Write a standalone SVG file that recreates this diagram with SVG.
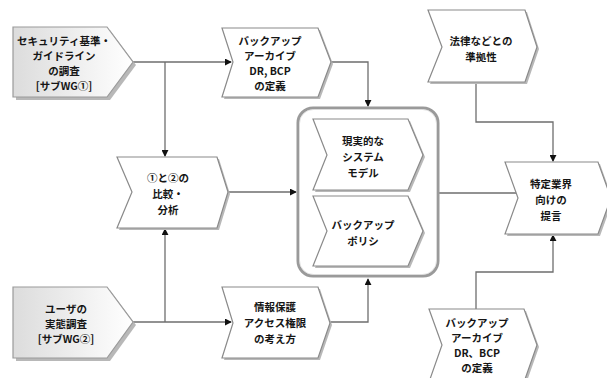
<svg xmlns="http://www.w3.org/2000/svg" width="607" height="378" viewBox="0 0 607 378">
<style>
.sh{fill:#b8b8b8;}
.chev{fill:#fff;stroke:#8a8a8a;stroke-width:1.2;}
.pent{fill:url(#pg);stroke:#9a9a9a;stroke-width:1.2;}
.t{font-family:"Noto Sans CJK JP","Noto Sans",sans-serif;font-weight:bold;font-size:10.5px;fill:#151515;text-anchor:middle;dominant-baseline:central;}
.ln{fill:none;stroke:#6e6e6e;stroke-width:1.3;}
</style>
<defs>
<linearGradient id="pg" x1="0" y1="0" x2="1" y2="0">
<stop offset="0" stop-color="#dcdcdc"/>
<stop offset="1" stop-color="#ffffff"/>
</linearGradient>
<marker id="ar" viewBox="0 0 8 8" refX="7" refY="4" markerWidth="7" markerHeight="7" markerUnits="userSpaceOnUse" orient="auto">
<path d="M0,0 L8,4 L0,8 Z" fill="#111"/>
</marker>
</defs>

<g id="connectors">
<path class="ln" d="M133,62 H231" marker-end="url(#ar)"/>
<path class="ln" d="M165,62 V156" marker-end="url(#ar)"/>
<path class="ln" d="M133,322 H231" marker-end="url(#ar)"/>
<path class="ln" d="M165,322 V229" marker-end="url(#ar)"/>
<path class="ln" d="M331,62 H368 V106" marker-end="url(#ar)"/>
<path class="ln" d="M330,322 H368 V279" marker-end="url(#ar)"/>
<path class="ln" d="M228,192 H296" marker-end="url(#ar)"/>
<path class="ln" d="M438,193 H518"/>
<path class="ln" d="M476,82 V122 H553 V161" marker-end="url(#ar)"/>
<path class="ln" d="M476,309 V272 H553 V235" marker-end="url(#ar)"/>
</g>

<g id="n1">
<path class="sh" d="M16,30 H110 L136,65 L110,100 H16 Z"/>
<path class="pent" d="M13,27 H107 L133,62 L107,97 H13 Z"/>
<text class="t" x="64" y="40">セキュリティ基準・</text>
<text class="t" x="64" y="55">ガイドライン</text>
<text class="t" x="64" y="70">の調査</text>
<text class="t" x="64" y="85">[サブWG①]</text>
</g>

<g id="n2">
<path class="sh" d="M224,30 H320 L333,64 L320,99 H224 L235,64 Z"/>
<path class="chev" d="M222,28 H318 L331,62 L318,97 H222 L233,62 Z"/>
<text class="t" x="270" y="40">バックアップ</text>
<text class="t" x="270" y="55">アーカイブ</text>
<text class="t" x="270" y="70">DR, BCP</text>
<text class="t" x="270" y="85">の定義</text>
</g>

<g id="n3">
<path class="sh" d="M119,159 H219 L230,194 L219,230 H119 L134,194 Z"/>
<path class="chev" d="M117,157 H217 L228,192 L217,228 H117 L132,192 Z"/>
<text class="t" x="168" y="177">①と②の</text>
<text class="t" x="168" y="193">比較・</text>
<text class="t" x="168" y="209">分析</text>
</g>

<g id="n4">
<path class="sh" d="M16,290 H110 L136,325 L110,361 H16 Z"/>
<path class="pent" d="M13,287 H107 L133,322 L107,358 H13 Z"/>
<text class="t" x="66" y="308">ユーザの</text>
<text class="t" x="66" y="323">実態調査</text>
<text class="t" x="66" y="338">[サブWG②]</text>
</g>

<g id="n5">
<path class="sh" d="M224,289 H320 L332,325 L320,360 H224 L235,325 Z"/>
<path class="chev" d="M222,287 H318 L330,323 L318,358 H222 L233,323 Z"/>
<text class="t" x="275" y="306">情報保護</text>
<text class="t" x="275" y="322">アクセス権限</text>
<text class="t" x="275" y="338">の考え方</text>
</g>

<g id="container">
<rect x="298" y="108" width="140" height="168" rx="15" fill="none" stroke="#9a9a9a" stroke-width="3"/>
<rect x="299.5" y="109.5" width="137" height="165" rx="14" fill="none" stroke="#e0e0e0" stroke-width="0.8"/>
</g>

<g id="n6">
<path class="sh" d="M315,121 H410 L425,157 L410,192 H315 L329,157 Z"/>
<path class="chev" d="M313,119 H408 L423,155 L408,190 H313 L327,155 Z"/>
<text class="t" x="363" y="140">現実的な</text>
<text class="t" x="363" y="156">システム</text>
<text class="t" x="363" y="172">モデル</text>
</g>

<g id="n7">
<path class="sh" d="M315,198 H410 L425,233 L410,268 H315 L329,233 Z"/>
<path class="chev" d="M313,196 H408 L423,231 L408,266 H313 L327,231 Z"/>
<text class="t" x="363" y="224">バックアップ</text>
<text class="t" x="363" y="240">ポリシ</text>
</g>

<g id="n8">
<path class="sh" d="M430,12 H527 L539,49 L527,84 H430 L444,49 Z"/>
<path class="chev" d="M428,10 H525 L537,47 L525,82 H428 L442,47 Z"/>
<text class="t" x="481" y="40">法律などとの</text>
<text class="t" x="481" y="56">準拠性</text>
</g>

<g id="n9">
<path class="sh" d="M507,164 H600 L613,200 L600,236 H507 L520,200 Z"/>
<path class="chev" d="M505,162 H598 L611,198 L598,234 H505 L518,198 Z"/>
<text class="t" x="551" y="183">特定業界</text>
<text class="t" x="551" y="199">向けの</text>
<text class="t" x="551" y="215">提言</text>
</g>

<g id="n10">
<path class="sh" d="M431,311 H526 L539,347 L526,384 H431 L444,347 Z"/>
<path class="chev" d="M429,309 H524 L537,345 L524,382 H429 L442,345 Z"/>
<text class="t" x="477" y="322">バックアップ</text>
<text class="t" x="477" y="337">アーカイブ</text>
<text class="t" x="477" y="352">DR、BCP</text>
<text class="t" x="477" y="367">の定義</text>
</g>
</svg>
